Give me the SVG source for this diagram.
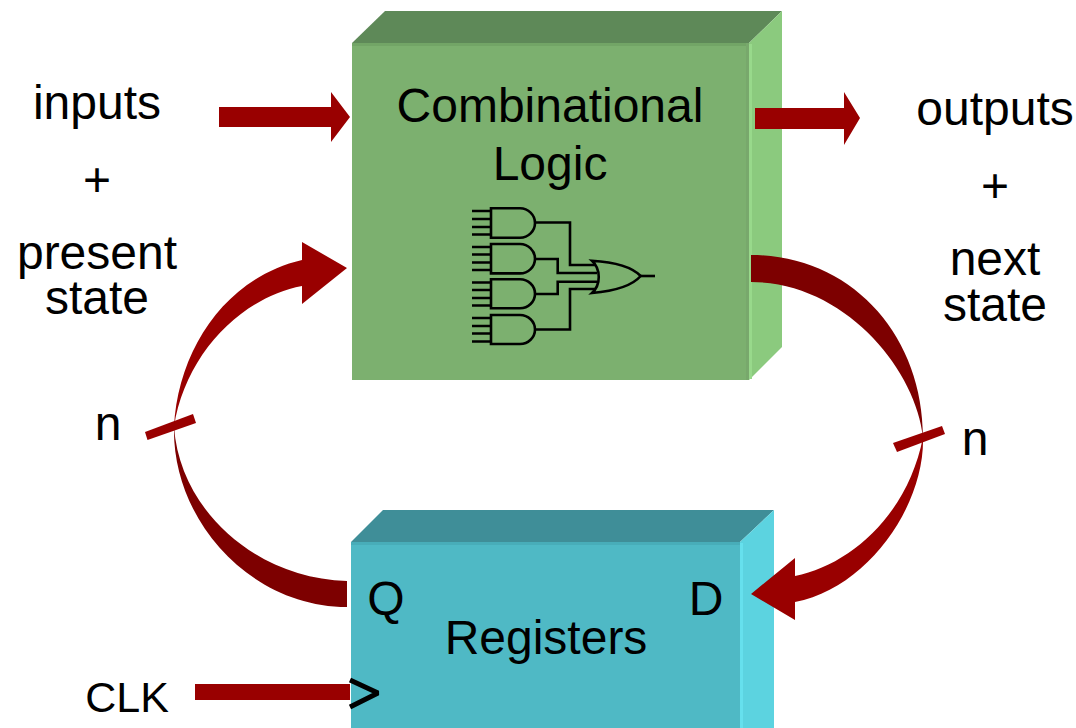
<svg xmlns="http://www.w3.org/2000/svg" width="1076" height="728" viewBox="0 0 1076 728">
<style>
text{font-family:"Liberation Sans",Arial,sans-serif;font-size:48px;fill:#000;text-anchor:middle}
.red{fill:#990000}
.dark{fill:#7d0000}
.g{fill:none;stroke:#000;stroke-width:2.6}
</style>
<rect width="1076" height="728" fill="#fff"/>
<g id="combinational-logic">
<polygon points="352,43 385,11 782,11 749,43" fill="#5e8958"/>
<polygon points="749,43 782,11 782,347 749,380" fill="#8bca7e"/>
<rect x="352" y="43" width="397" height="337" fill="#7cb06f"/>
<rect x="352" y="43" width="397" height="3" fill="#72a566"/>
<rect x="746" y="43" width="3" height="337" fill="#78a86c"/>
<rect x="749" y="44" width="3" height="335" fill="#98d98b"/>
<text x="550" y="122">Combinational</text>
<text x="550" y="180">Logic</text>
<g id="gates">
<path class="g" d="M491,208.300H520A15,14.700 0 0 1 520,237.700H491Z"/>
<path class="g" d="M491,244H520A15,14.700 0 0 1 520,273.400H491Z"/>
<path class="g" d="M491,279.300H520A15,14.500 0 0 1 520,308.300H491Z"/>
<path class="g" d="M491,315H520A15,14.500 0 0 1 520,344H491Z"/>
<path class="g" d="M472,211H491M472,219H491M472,227H491M472,234.500H491M472,247H491M472,254.500H491M472,262.500H491M472,270H491M472,282.500H491M472,290H491M472,298H491M472,305.500H491M472,318H491M472,326H491M472,333.500H491M472,341.500H491"/>
<path class="g" d="M535,222.500H570V265H595M535,259H557.700V273H597M535,294H557.700V281.700H597M535,329.500H570V289H595"/>
<path class="g" d="M592,260.700C615,262 632,267 640.700,276C632,286 615,291 592,293C601,285 601,269 592,260.700Z"/>
<path class="g" d="M640.700,276H655"/>
</g>
</g>
<g id="registers">
<polygon points="351,542 383,510 774,510 740,542" fill="#3f8e98"/>
<polygon points="740,542 774,510 774,728 740,728" fill="#5cd3e0"/>
<rect x="351" y="542" width="389" height="186" fill="#4fb9c5"/>
<rect x="351" y="542" width="389" height="3" fill="#48adb9"/>
<rect x="740" y="543" width="3" height="185" fill="#66e0ed"/>
<text x="386" y="615">Q</text>
<text x="706" y="615">D</text>
<text x="546" y="654">Registers</text>
</g>
<g id="connectors">
<polygon class="red" points="219,107 331,107 331,92 350,117 331,142 331,127 219,127"/>
<polygon class="red" points="755,108 844,108 844,92 860,118 844,145 844,129 755,129"/>
<path class="red" d="M174,427C178,350 225,278 302,260V242L347,268L302,304V286C240,298 185,355 174,427Z"/>
<path class="dark" d="M174,427C172,520 250,607 347,607V581C255,578 180,510 174,427Z"/>
<path class="dark" d="M751,255C851,255 923,335 923,437C916,370 845,282 751,282Z"/>
<path class="red" d="M923,437C925,505 868,588 795,602V620L751,594L795,558V576C850,565 908,515 923,437Z"/>
<polygon class="red" points="145,432 193,414 196,423 147.500,440"/>
<polygon class="red" points="893,443 942,426 945,434 897,452"/>
<rect class="red" x="195" y="684" width="155" height="16"/>
<path d="M350,680L378,693L350,707" fill="none" stroke="#000" stroke-width="5" stroke-linejoin="bevel"/>
</g>
<g id="labels">
<text x="97" y="118.500">inputs</text>
<text x="97" y="195.500">+</text>
<text x="97" y="269">present</text>
<text x="97" y="314">state</text>
<text x="108" y="440">n</text>
<text x="995" y="125">outputs</text>
<text x="995" y="201.500">+</text>
<text x="995" y="275">next</text>
<text x="995" y="321">state</text>
<text x="975" y="455">n</text>
<text x="127" y="712" style="font-size:43px">CLK</text>
</g>
</svg>
